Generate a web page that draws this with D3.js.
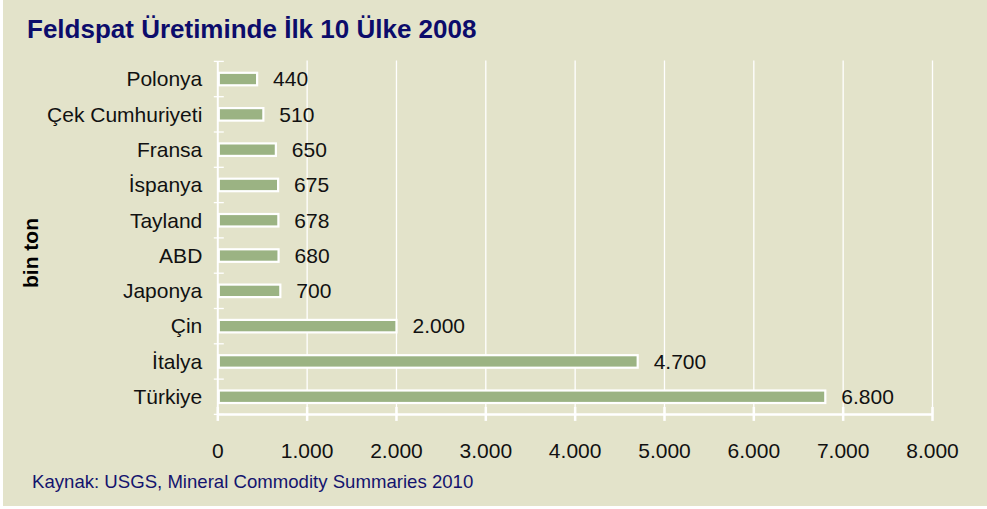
<!DOCTYPE html>
<html>
<head>
<meta charset="utf-8">
<script src="https://cdn.jsdelivr.net/npm/d3@7"></script>
<style>
  body { margin: 0; background: #fff; }
  text { font-family: "Liberation Sans", Arial, sans-serif; }
</style>
</head>
<body>
<div id="chart"></div>
<script>
const countries = ['Polonya', 'Çek Cumhuriyeti', 'Fransa', 'İspanya', 'Tayland', 'ABD', 'Japonya', 'Çin', 'İtalya', 'Türkiye'];
const production = [440, 510, 650, 675, 678, 680, 700, 2000, 4700, 6800];
const xTicks = [0, 1000, 2000, 3000, 4000, 5000, 6000, 7000, 8000];

const W = 987, H = 509;
const margin = { top: 61.4, right: 54.5, bottom: 94.6, left: 217.8 };
const width = W - margin.left - margin.right;
const height = H - margin.top - margin.bottom;

const fmt = v => d3.format(',')(v).replace(/,/g, '.');

const svg = d3.select('#chart').append('svg')
    .attr('width', W)
    .attr('height', H);

svg.append('rect')
    .attr('x', 3).attr('y', 0)
    .attr('width', W - 3).attr('height', H - 3)
    .attr('fill', '#e3e3ca');

svg.append('text')
    .attr('x', 27).attr('y', 38)
    .attr('font-size', 26).attr('font-weight', 'bold')
    .attr('fill', '#0c0c6b')
    .text('Feldspat Üretiminde İlk 10 Ülke 2008');

svg.append('text')
    .attr('x', 32).attr('y', 488)
    .attr('font-size', 18.6)
    .attr('fill', '#14146e')
    .text('Kaynak: USGS, Mineral Commodity Summaries 2010');

svg.append('text')
    .attr('transform', 'translate(38, 253) rotate(-90)')
    .attr('text-anchor', 'middle')
    .attr('font-size', 21).attr('font-weight', 'bold')
    .attr('fill', '#000')
    .text('bin ton');

const graph = svg.append('g')
    .attr('transform', `translate(${margin.left}, ${margin.top})`);

const x = d3.scaleLinear().domain([0, 8000]).range([0, width]);
const y = d3.scaleBand().domain(countries).range([0, height]);

// vertical gridlines
graph.selectAll('.grid')
    .data(xTicks.slice(1))
  .enter().append('line')
    .attr('class', 'grid')
    .attr('x1', d => x(d)).attr('x2', d => x(d))
    .attr('y1', -1).attr('y2', height)
    .attr('stroke', '#fff').attr('stroke-width', 1.3);

// x axis
const xAxis = graph.append('g')
    .attr('transform', `translate(0, ${height})`);
xAxis.append('line')
    .attr('x1', 0).attr('x2', x(8000))
    .attr('stroke', '#fff').attr('stroke-width', 2.5);
xAxis.selectAll('.xtick')
    .data(xTicks)
  .enter().append('line')
    .attr('x1', d => x(d)).attr('x2', d => x(d))
    .attr('y1', -7.5).attr('y2', 6.5)
    .attr('stroke', '#fff').attr('stroke-width', 2.5);
xAxis.selectAll('.xlabel')
    .data(xTicks)
  .enter().append('text')
    .attr('x', d => x(d)).attr('y', 43.5)
    .attr('text-anchor', 'middle')
    .attr('font-size', 21)
    .attr('fill', '#111')
    .text(fmt);

// y axis
const yAxis = graph.append('g');
yAxis.append('line')
    .attr('x1', 0).attr('x2', 0)
    .attr('y1', 0).attr('y2', height)
    .attr('stroke', '#fff').attr('stroke-width', 2);
yAxis.selectAll('.ytick')
    .data(d3.range(countries.length + 1))
  .enter().append('line')
    .attr('x1', -4).attr('x2', 6)
    .attr('y1', i => i * y.step()).attr('y2', i => i * y.step())
    .attr('stroke', '#fff').attr('stroke-width', 1.3);
yAxis.selectAll('.ylabel')
    .data(countries)
  .enter().append('text')
    .attr('x', -15.5)
    .attr('y', d => y(d) + y.bandwidth() / 2)
    .attr('dy', '0.35em')
    .attr('text-anchor', 'end')
    .attr('font-size', 21)
    .attr('fill', '#111')
    .text(d => d);

// bars
const barH = 12.5;
graph.selectAll('.bar')
    .data(countries)
  .enter().append('rect')
    .attr('class', 'bar')
    .attr('x', 1)
    .attr('y', d => y(d) + y.bandwidth() / 2 - barH / 2)
    .attr('width', (d, i) => x(production[i]) - 1)
    .attr('height', barH)
    .attr('fill', '#9bb383')
    .attr('stroke', '#fff').attr('stroke-width', 2.2);

graph.selectAll('.value')
    .data(countries)
  .enter().append('text')
    .attr('x', (d, i) => x(production[i]) + 16)
    .attr('y', d => y(d) + y.bandwidth() / 2)
    .attr('dy', '0.35em')
    .attr('font-size', 21)
    .attr('fill', '#111')
    .text((d, i) => fmt(production[i]));
</script>
</body>
</html>
